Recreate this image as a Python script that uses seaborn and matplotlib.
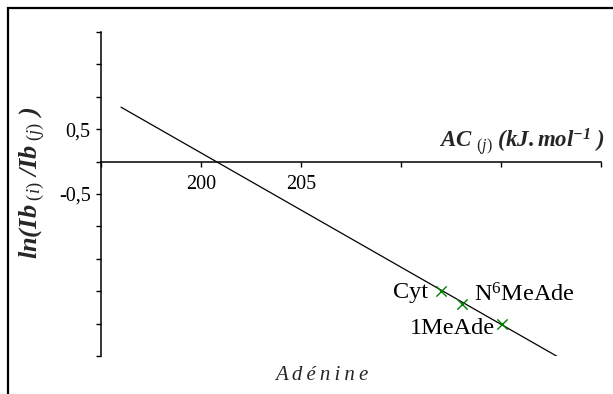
import numpy as np
import pandas as pd
import matplotlib
matplotlib.use("Agg")
import matplotlib.pyplot as plt
import seaborn as sns
from matplotlib.patches import Rectangle

# fitted line (end points)
fit_x = [196.0, 218.0]
fit_y = [0.84, -3.04]

# bases plotted on the line
bases = ["Cyt", "N$^{6}$MeAde", "1MeAde"]
base_x = [212.0, 213.05, 215.05]
base_y = [-2.00, -2.19, -2.51]

# label offsets (points) from each marker
label_dx = [-9, 9, -5]
label_dy = [-1, 6, -3]
label_ha = ["right", "left", "right"]

x_ticks = [195, 200, 205, 210, 215, 220]
x_ticklabels = ["", "200", "205", "", "", ""]
y_ticks = np.arange(-3.0, 2.01, 0.5)
y_ticklabels = ["0,5" if abs(v - 0.5) < 1e-9 else ("-0,5" if abs(v + 0.5) < 1e-9 else "") for v in y_ticks]

sns.set_theme(style="white")
plt.rcParams["font.family"] = ["Liberation Serif", "DejaVu Serif"]
plt.rcParams["mathtext.fontset"] = "custom"
plt.rcParams["mathtext.rm"] = "Liberation Serif"
plt.rcParams["mathtext.it"] = "Liberation Serif:italic"
plt.rcParams["mathtext.bf"] = "Liberation Serif:bold"
plt.rcParams["mathtext.bfit"] = "Liberation Serif:italic:bold"

W, H = 613, 394
fig = plt.figure(figsize=(W / 100, H / 100), dpi=100)
ax = fig.add_axes([101 / W, (H - 356) / H, 500 / W, 324 / H])

line_df = pd.DataFrame({"x": fit_x, "y": fit_y})
sns.lineplot(data=line_df, x="x", y="y", color="black", linewidth=0.9, ax=ax)

pts = pd.DataFrame({"x": base_x, "y": base_y, "base": bases})
sns.scatterplot(data=pts, x="x", y="y", marker="x", color="#008000", s=55, linewidth=1.0, ax=ax, zorder=3)

for name, xv, yv, dx, dy, ha in zip(bases, base_x, base_y, label_dx, label_dy, label_ha):
    ax.annotate(name, (xv, yv), xytext=(dx, dy), textcoords="offset points",
                ha=ha, va="center", fontsize=17.5, color="black")

ax.set_xlim(195, 220)
ax.set_ylim(-3, 2)
for s in ["top", "right"]:
    ax.spines[s].set_visible(False)
ax.spines["bottom"].set_position(("data", 0))
for s in ["left", "bottom"]:
    ax.spines[s].set_color("black")
    ax.spines[s].set_linewidth(1.1)

ax.set_xticks(x_ticks)
ax.set_xticklabels(x_ticklabels, fontsize=14.5)
ax.set_yticks(y_ticks)
ax.set_yticklabels(y_ticklabels, fontsize=14.5)
ax.tick_params(axis="both", direction="out", length=3.5, width=1, color="black",
               labelcolor="black", left=True, bottom=True)
ax.tick_params(axis="x", pad=6)
ax.tick_params(axis="y", pad=4)
ax.set_xlabel("")
ax.set_ylabel("")

ax.text(1.008, 0.661, r"$\mathbfit{AC\ }_{\mathit{(j)}}\ \mathbfit{(kJ.mol}^{\mathbfit{-1}}\mathbfit{\ )}$",
        transform=ax.transAxes, ha="right", va="center", fontsize=16.5)
ax.text(-0.138, 0.534, r"$\mathbfit{ln(Ib}_{\mathit{\ (i)}}\mathbfit{\ /Ib}_{\mathit{\ (j)}}\mathbfit{\ )}$",
        transform=ax.transAxes, ha="center", va="center", rotation=90, fontsize=19)
ax.text(0.442, -0.059, "\u2009".join("Adénine"), transform=ax.transAxes,
        ha="center", va="center", fontsize=15, style="italic")

# outer frame (cut off at right and bottom)
fig.patches.append(Rectangle((8 / W, -0.2), 1.2, 1.2 - 8 / H, transform=fig.transFigure,
                             fill=False, edgecolor="black", linewidth=1.6))

fig.savefig("out.png", dpi=100)
